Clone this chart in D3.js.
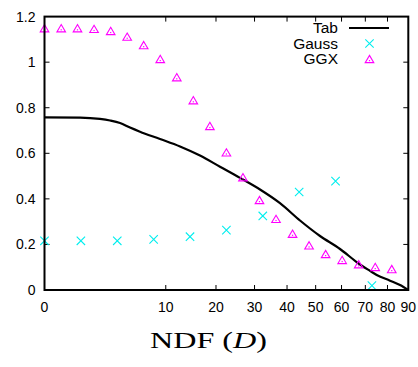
<!DOCTYPE html>
<html>
<head>
<meta charset="utf-8">
<script src="https://cdn.jsdelivr.net/npm/d3@7"></script>
<style>
  html, body { margin: 0; padding: 0; background: #fff; }
  svg { display: block; }
</style>
</head>
<body>
<svg id="chart" width="418" height="367"></svg>
<script>
// ---- data (angle in degrees, value) ----
const xTicks = [0, 10, 20, 30, 40, 50, 60, 70, 80, 90];
const yTicks = [0, 0.2, 0.4, 0.6, 0.8, 1.0, 1.2];
const yTickLabels = ["0", "0.2", "0.4", "0.6", "0.8", "1", "1.2"];

const tabAngles = [0, 0.86, 2.09, 2.92, 3.88, 4.97, 6.20, 9.07, 12.49, 16.44, 20.94, 25.99, 31.58, 37.71, 44.39, 51.61, 59.38, 65.98, 67.69, 72.05, 75.05, 81.17, 85.94, 90];
const tabValues = [0.758, 0.757, 0.751, 0.744, 0.733, 0.713, 0.695, 0.663, 0.630, 0.590, 0.541, 0.492, 0.441, 0.381, 0.305, 0.237, 0.180, 0.125, 0.112, 0.084, 0.066, 0.041, 0.022, 0];

const gaussAngles = [0, 0.9, 3.6, 8.1, 14.4, 22.5, 32.4, 44.1, 57.6, 72.9];
const gaussValues = [0.216, 0.216, 0.216, 0.222, 0.234, 0.263, 0.325, 0.430, 0.478, 0.019];

const ggxAngles = [0, 0.19, 0.74, 1.67, 2.98, 4.65, 6.69, 9.11, 11.90, 15.06, 18.60, 22.50, 26.78, 31.43, 36.45, 41.84, 47.60, 53.74, 60.25, 67.13, 74.38, 82.0];
const ggxValues = [1.149, 1.149, 1.149, 1.146, 1.137, 1.112, 1.075, 1.014, 0.934, 0.833, 0.720, 0.604, 0.495, 0.395, 0.312, 0.247, 0.196, 0.158, 0.132, 0.113, 0.101, 0.092];

const seriesNames = ["Tab", "Gauss", "GGX"];
const xTitle = "NDF (";
const xTitleItalic = "D";
const xTitleEnd = ")";

// ---- layout ----
const svg = d3.select("#chart");
const pLeft = 44.5, pRight = 408.3, pTop = 16.6, pBottom = 290;
const x = d3.scaleSqrt().domain([0, 90]).range([pLeft, pRight]);
const y = d3.scaleLinear().domain([0, 1.2]).range([pBottom, pTop]);
const tickFont = "'Liberation Sans', Arial, Helvetica, sans-serif";

// ticks (inward, mirrored)
const tickLen = 5;
const tg = svg.append("g").attr("stroke", "#000").attr("stroke-width", 1);
xTicks.slice(1, -1).forEach(t => {
  tg.append("line").attr("x1", x(t)).attr("x2", x(t)).attr("y1", pBottom).attr("y2", pBottom - tickLen);
  tg.append("line").attr("x1", x(t)).attr("x2", x(t)).attr("y1", pTop).attr("y2", pTop + tickLen);
});
yTicks.slice(1, -1).forEach(t => {
  tg.append("line").attr("x1", pLeft).attr("x2", pLeft + tickLen).attr("y1", y(t)).attr("y2", y(t));
  tg.append("line").attr("x1", pRight).attr("x2", pRight - tickLen).attr("y1", y(t)).attr("y2", y(t));
});

// tick labels
svg.append("g").selectAll("text").data(xTicks).join("text")
  .attr("x", d => x(d)).attr("y", 312)
  .attr("text-anchor", "middle")
  .attr("font-family", tickFont).attr("font-size", 14)
  .text(d => d);
svg.append("g").selectAll("text").data(yTicks).join("text")
  .attr("x", 35.5).attr("y", d => y(d) + 5)
  .attr("text-anchor", "end")
  .attr("font-family", tickFont).attr("font-size", 14)
  .text((d, i) => yTickLabels[i]);

// Tab line
const tabData = tabAngles.map((a, i) => [a, tabValues[i]]);
svg.append("path")
  .datum(tabData)
  .attr("fill", "none").attr("stroke", "#000").attr("stroke-width", 2.2)
  .attr("stroke-linejoin", "round")
  .attr("d", d3.line().x(d => x(d[0])).y(d => y(d[1])).curve(d3.curveMonotoneX));

// marker helpers
function cross(g, cx, cy) {
  const s = 4.2;
  g.append("path")
    .attr("d", `M${cx - s},${cy - s}L${cx + s},${cy + s}M${cx - s},${cy + s}L${cx + s},${cy - s}`)
    .attr("stroke", "#00eeee").attr("stroke-width", 1.1).attr("fill", "none");
}
function tri(g, cx, cy) {
  const w = 4.3, h = 7.3;
  g.append("path")
    .attr("d", `M${cx},${cy - h / 2}L${cx + w},${cy + h / 2}L${cx - w},${cy + h / 2}Z`)
    .attr("stroke", "#ff00ff").attr("stroke-width", 1.1).attr("fill", "none");
  g.append("rect").attr("x", cx - 0.6).attr("y", cy + 1).attr("width", 1.2).attr("height", 1.2).attr("fill", "#ff00ff");
}

const ggxG = svg.append("g");
ggxAngles.forEach((a, i) => tri(ggxG, x(a), y(ggxValues[i])));
const gaussG = svg.append("g");
gaussAngles.forEach((a, i) => cross(gaussG, x(a), y(gaussValues[i])));

// frame
svg.append("rect")
  .attr("x", pLeft).attr("y", pTop).attr("width", pRight - pLeft).attr("height", pBottom - pTop)
  .attr("fill", "none").attr("stroke", "#000").attr("stroke-width", 2);

// legend
const lg = svg.append("g").attr("font-family", tickFont).attr("font-size", 15.5);
const legY = [28, 43.5, 59];
seriesNames.forEach((n, i) => {
  lg.append("text").attr("x", 338).attr("y", legY[i] + 5.2).attr("text-anchor", "end").text(n);
});
lg.append("line").attr("x1", 349).attr("x2", 389).attr("y1", legY[0]).attr("y2", legY[0])
  .attr("stroke", "#000").attr("stroke-width", 2.2);
cross(lg, 369.5, legY[1]);
tri(lg, 369.5, legY[2]);

// x title
const title = svg.append("text")
  .attr("x", 150).attr("y", 348)
  .attr("font-family", "'Liberation Serif', 'DejaVu Serif', serif")
  .attr("font-size", 23)
  .attr("textLength", 117)
  .attr("lengthAdjust", "spacingAndGlyphs");
title.append("tspan").text(xTitle);
title.append("tspan").attr("font-style", "italic").text(xTitleItalic);
title.append("tspan").text(xTitleEnd);
</script>
</body>
</html>
